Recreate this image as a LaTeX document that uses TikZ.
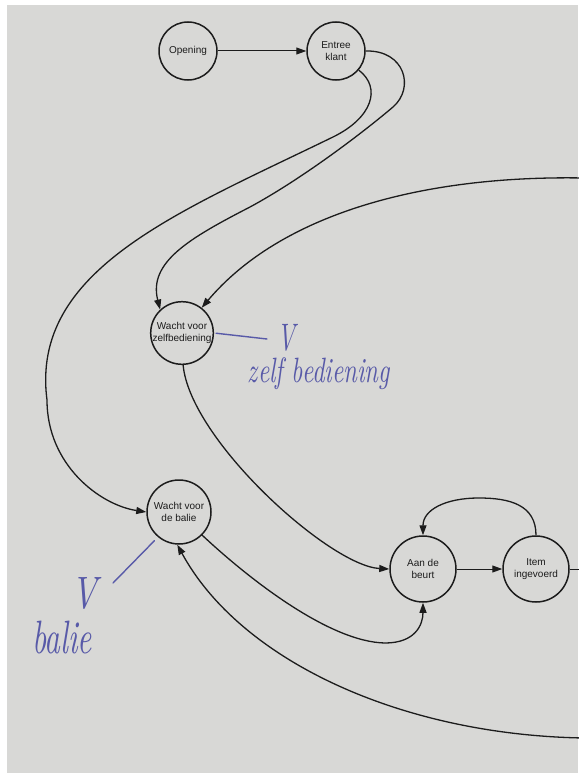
\documentclass[tikz,border=0pt]{standalone}
\usepackage{fontspec}
\usepackage{graphicx}
\newfontfamily\labelfont{Liberation Sans}
\usetikzlibrary{arrows.meta}

\definecolor{paper}{RGB}{216,216,214}
\definecolor{ink}{RGB}{28,28,28}
\definecolor{pen}{RGB}{88,90,168}

\tikzset{
  stnode/.style={circle, draw=ink, line width=1.5pt, minimum size=62pt,
    inner sep=0pt, align=center, text=ink,
    font=\labelfont\fontsize{10}{12.5}\selectfont},
  link/.style={draw=ink, line width=1.3pt, -{Triangle[length=10pt,width=7pt]}},
  thinlink/.style={link, line width=1pt},
  penline/.style={draw=pen, line width=1.4pt, line cap=round},
  hand/.style={text=pen, inner sep=0pt, font=\itshape},
}

\begin{document}
\begin{tikzpicture}[x=1pt,y=-1pt]
  % sheet and its margin
  \fill[white] (0,0) rectangle (578,776);
  \useasboundingbox (0,0) rectangle (578,776);
  \fill[paper] (7,5) rectangle (578,773);

  % states
  \node[stnode, minimum size=58pt] (open)   at (188,51)  {Opening};
  \node[stnode, minimum size=58pt] (entree) at (336,51)  {Entree\\klant};
  \node[stnode]                    (zelf)   at (182,333) {Wacht voor\\zelfbediening};
  \node[stnode, minimum size=64pt] (balie)  at (179,512) {Wacht voor\\de balie};
  \node[stnode, minimum size=66pt] (aan)    at (423,569) {Aan de\\beurt};
  \node[stnode, minimum size=66pt] (item)   at (536,569) {Item\\ingevoerd};

  % loose ends running off the sheet
  \coordinate (offtop)  at (584,178);
  \coordinate (offbot)  at (584,738);
  \coordinate (offitem) at (584,569);

  % transitions
  \draw[thinlink] (open) -- (entree);
  \draw[link] (entree.-40) .. controls (382,88) and (372,118) .. (333,137)
                           .. controls (177,213) and (30,270) .. (47,400)
                           .. controls (47,465) and (100,505) .. (balie.west);
  \draw[link] (entree.east) .. controls (405,50) and (415,88) .. (393,107)
                            .. controls (360,135) and (300,180) .. (250,207)
                            .. controls (190,238) and (148,262) .. (zelf.133);
  \draw[link] (offtop) .. controls (420,175) and (280,215) .. (zelf.52);
  \draw[link] (zelf.-88) .. controls (190,440) and (330,566) .. (aan.west);
  \draw[link] (balie.-45) .. controls (250,580) and (330,642) .. (385,643)
                          .. controls (415,643) and (423,625) .. (aan.south);
  \draw[link] (offbot) .. controls (400,735) and (240,660) .. (balie.-93);
  \draw[thinlink] (aan) -- (item);
  \draw[link] (item.north) .. controls (536,505) and (510,498) .. (479,498)
                           .. controls (445,498) and (423,510) .. (aan.north);
  \draw[draw=ink, line width=1pt] (item.east) -- (offitem);

  % pen notes
  \coordinate (zend) at (267,339);
  \coordinate (bend) at (113,583);
  \draw[penline, shorten <=2pt] (zelf.east) -- (zend);
  \draw[penline, shorten <=5pt] (balie.-130) -- (bend);
  \node[hand] (zv)    at (286,338) {\resizebox*{18pt}{27pt}{V}};
  \node[hand] (ztext) at (319,374) {\resizebox*{142pt}{32pt}{zelf bediening}};
  \node[hand] (bv)    at (84,593)  {\resizebox*{26pt}{32pt}{V}};
  \node[hand] (btext) at (62,637)  {\resizebox*{60pt}{33pt}{balie}};
\end{tikzpicture}
\end{document}
